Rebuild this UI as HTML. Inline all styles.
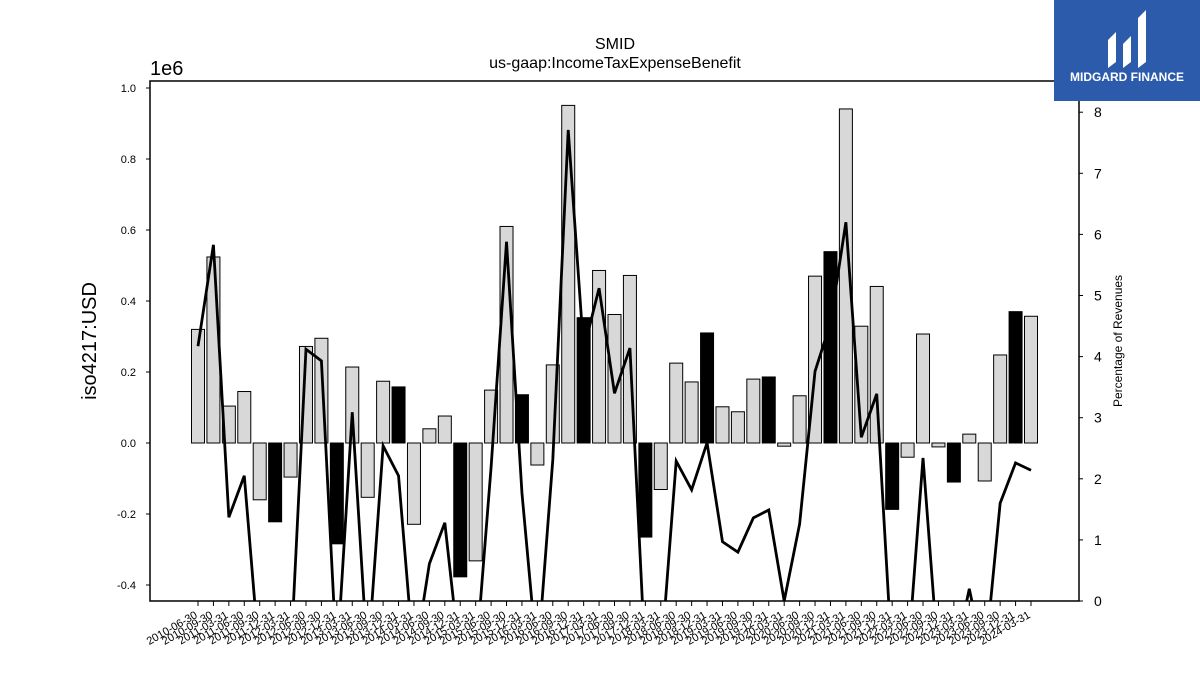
<!DOCTYPE html>
<html><head><meta charset="utf-8"><style>
body{margin:0;background:#fff;}
svg text{font-family:"Liberation Sans","DejaVu Sans",sans-serif;}
</style></head><body>
<svg id="chart" width="1200" height="675" viewBox="0 0 1200 675" xmlns="http://www.w3.org/2000/svg">
<rect width="1200" height="675" fill="#fff"/>
<text x="615" y="49" text-anchor="middle" font-size="16">SMID</text>
<text x="615" y="68" text-anchor="middle" font-size="16">us-gaap:IncomeTaxExpenseBenefit</text>
<text x="150" y="75" font-size="20">1e6</text>
<text transform="translate(96,341) rotate(-90)" text-anchor="middle" font-size="20">iso4217:USD</text>
<text transform="translate(1122,341) rotate(-90)" text-anchor="middle" font-size="12">Percentage of Revenues</text>
<defs><clipPath id="plotclip"><rect x="150" y="81" width="929" height="520"/></clipPath></defs>
<g id="bars"></g>
<g id="line" clip-path="url(#plotclip)"></g>
<g id="axes"></g>
<rect x="150" y="81" width="929" height="520" fill="none" stroke="#000" stroke-width="1.5"/>
<g>
<rect x="1054" y="0" width="146" height="101" fill="#2c5bab"/>
<path d="M1108 68 L1108 40 L1116 32 L1116 62 Z M1123 68 L1123 44 L1131 36 L1131 62 Z M1138 68 L1138 18 L1146 10 L1146 62 Z" fill="#fff"/>
<text x="1127" y="81" text-anchor="middle" font-size="12" font-weight="bold" fill="#fff">MIDGARD FINANCE</text>
</g>
</svg>
<script>
const values=[0.32,0.524,0.104,0.145,-0.16,-0.222,-0.096,0.272,0.295,-0.284,0.214,-0.153,0.174,0.158,-0.229,0.04,0.076,-0.377,-0.332,0.149,0.61,0.136,-0.062,0.22,0.951,0.353,0.486,0.362,0.472,-0.265,-0.131,0.225,0.172,0.31,0.102,0.088,0.18,0.186,-0.009,0.133,0.47,0.539,0.941,0.329,0.441,-0.187,-0.04,0.307,-0.011,-0.11,0.025,-0.107,0.248,0.37,0.357];
const pct=[4.17,5.83,1.37,2.05,-1,-1,-1,4.12,3.93,-1,3.09,-1,2.54,2.05,-1,0.61,1.28,-1,-1,2.19,5.88,1.77,-1,2.31,7.71,4.11,5.12,3.40,4.14,-1,-1,2.29,1.82,2.59,0.97,0.80,1.36,1.49,0.0,1.26,3.76,4.55,6.20,2.68,3.39,-1,-1,2.34,-1,-1,0.2,-1,1.60,2.26,2.14];
const annual=[0,0,0,0,0,1,0,0,0,1,0,0,0,1,0,0,0,1,0,0,0,1,0,0,0,1,0,0,0,1,0,0,0,1,0,0,0,1,0,0,0,1,0,0,0,1,0,0,0,1,0,0,0,1,0];
const leftTicks=[-0.4,-0.2,0.0,0.2,0.4,0.6,0.8,1.0];
const rightTicks=[0,1,2,3,4,5,6,7,8];
const categories=[];
(function(){const ends=['03-31','06-30','09-30','12-31'];let y=2010,q=1;while(categories.length<55){if(!(y===2010&&q===3))categories.push(y+'-'+ends[q]);q++;if(q>3){q=0;y++;}}})();
const NS='http://www.w3.org/2000/svg';
const xS=i=>198+i*(1031-198)/(values.length-1);
const yL=v=>443-v*355;
const yR=v=>601-v*61.1;
function mk(t,a,p){const e=document.createElementNS(NS,t);for(const k in a)e.setAttribute(k,a[k]);p.appendChild(e);return e;}
const bars=document.getElementById('bars'),line=document.getElementById('line'),axes=document.getElementById('axes');
values.forEach((v,i)=>{
 const y0=yL(0),y1=yL(v);
 const r=mk('rect',{x:xS(i)-6.5,y:Math.min(y0,y1),width:13,height:Math.max(Math.abs(y1-y0),1),fill:annual[i]?'#000':'#d8d8d8',stroke:'#000','stroke-width':1},bars);
 
 
});
const pl=mk('polyline',{points:pct.map((v,i)=>xS(i)+','+yR(v)).join(' '),fill:'none',stroke:'#000','stroke-width':2.8,'stroke-linejoin':'miter'},line);


leftTicks.forEach(t=>{
 const y=yL(t);
 mk('line',{x1:146,x2:150,y1:y,y2:y,stroke:'#000'},axes);
 const tx=mk('text',{x:136,y:y+4,'text-anchor':'end','font-size':11},axes);tx.textContent=t.toFixed(1);
 
 
});
rightTicks.forEach(t=>{
 const y=yR(t);
 mk('line',{x1:1079,x2:1083,y1:y,y2:y,stroke:'#000'},axes);
 const tx=mk('text',{x:1094,y:y+5,'font-size':14},axes);tx.textContent=t;
 
 
});
categories.forEach((c,i)=>{
 const x=xS(i);
 mk('line',{x1:x,x2:x,y1:601,y2:606,stroke:'#000'},axes);
 const tx=mk('text',{x:x,y:617,'text-anchor':'end','font-size':11,transform:'rotate(-30 '+x+' 617)'},axes);tx.textContent=c;
 
 
});
</script>
</body></html>
